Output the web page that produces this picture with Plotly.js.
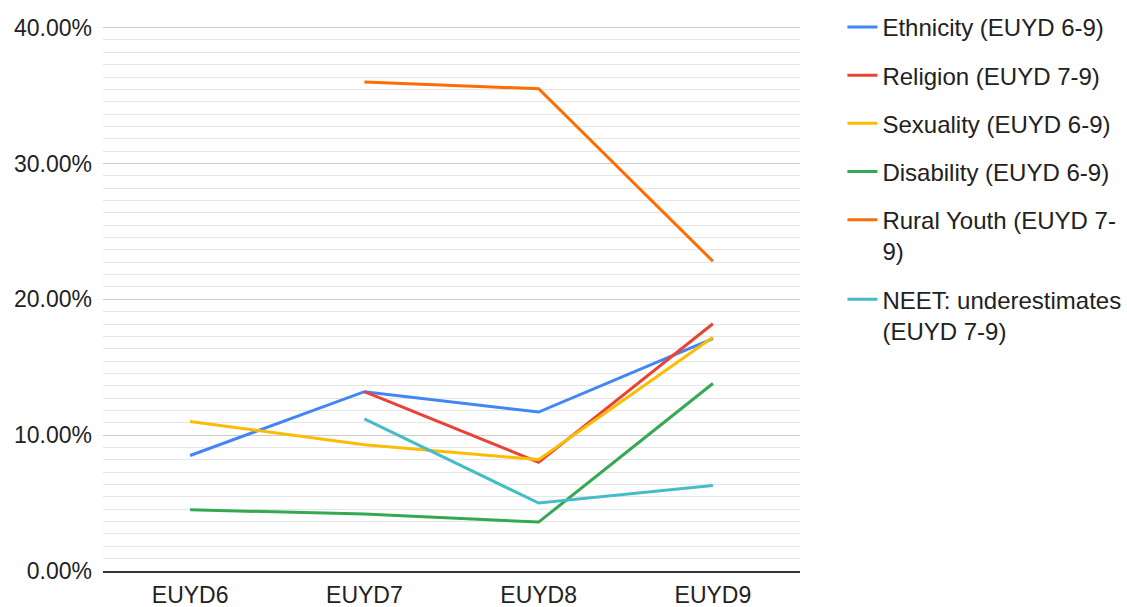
<!DOCTYPE html>
<html>
<head>
<meta charset="utf-8">
<script src="https://cdn.plot.ly/plotly-3.0.1.min.js"></script>
<style>html,body{margin:0;padding:0;background:#fff;}#chart{width:1127px;height:607px;}</style>
</head>
<body>
<div id="chart"></div>
<script>
const categories = ["EUYD6", "EUYD7", "EUYD8", "EUYD9"];
const seriesNames = [
  "Ethnicity (EUYD 6-9)",
  "Religion (EUYD 7-9)",
  "Sexuality (EUYD 6-9)",
  "Disability (EUYD 6-9)",
  "Rural Youth (EUYD 7-<br>9)",
  "NEET: underestimates<br>(EUYD 7-9)"
];
const ethnicity = [0.085, 0.132, 0.117, 0.171];
const religion = [null, 0.132, 0.080, 0.182];
const sexuality = [0.110, 0.093, 0.082, 0.172];
const disability = [0.045, 0.042, 0.036, 0.138];
const ruralYouth = [null, 0.360, 0.355, 0.228];
const neet = [null, 0.112, 0.050, 0.063];
const yTickVals = [0, 0.1, 0.2, 0.3, 0.4];
const colors = ["#4285F4", "#EA4335", "#FBBC04", "#34A853", "#FF6D01", "#46BDC6"];

const seriesValues = [ethnicity, religion, sexuality, disability, ruralYouth, neet];
const traces = seriesValues.map((vals, i) => ({
  type: "scatter",
  mode: "lines",
  x: categories,
  y: vals,
  name: seriesNames[i],
  legendgroup: "g" + i,
  line: {color: colors[i], width: 3},
  connectgaps: false,
  hoverinfo: "x+y+name"
}));

const layout = {
  width: 1127,
  height: 607,
  margin: {l: 103, r: 327, t: 26, b: 36, autoexpand: false},
  paper_bgcolor: "#ffffff",
  plot_bgcolor: "#ffffff",
  font: {family: "Arial, 'Liberation Sans', sans-serif", color: "#222222"},
  showlegend: true,
  legend: {
    xref: "container", yref: "container",
    x: 0.7475, xanchor: "left",
    y: 0.992, yanchor: "top",
    font: {size: 24, color: "#222222"},
    tracegroupgap: 14,
    itemwidth: 30,
    valign: "top",
    maxheight: 600,
    bgcolor: "rgba(0,0,0,0)"
  },
  xaxis: {
    type: "category",
    range: [-0.5, 3.5],
    automargin: false,
    showgrid: false,
    zeroline: false,
    showline: true,
    linecolor: "#333333",
    linewidth: 1.5,
    ticks: "",
    tickfont: {size: 23, color: "#222222"},
    ticklabelstandoff: 3
  },
  yaxis: {
    range: [0, 0.4012],
    automargin: false,
    tickvals: yTickVals,
    tickformat: ".2%",
    tickfont: {size: 23, color: "#222222"},
    showgrid: true,
    gridcolor: "#cccccc",
    gridwidth: 1,
    zeroline: false,
    showline: false,
    ticks: "",
    ticklabelstandoff: 10,
    minor: {
      dtick: 0.1 / 11,
      tick0: 0,
      showgrid: true,
      gridcolor: "#e5e5e5",
      gridwidth: 1
    }
  }
};

Plotly.newPlot("chart", traces, layout, {displayModeBar: false, staticPlot: true});
</script>
</body>
</html>
